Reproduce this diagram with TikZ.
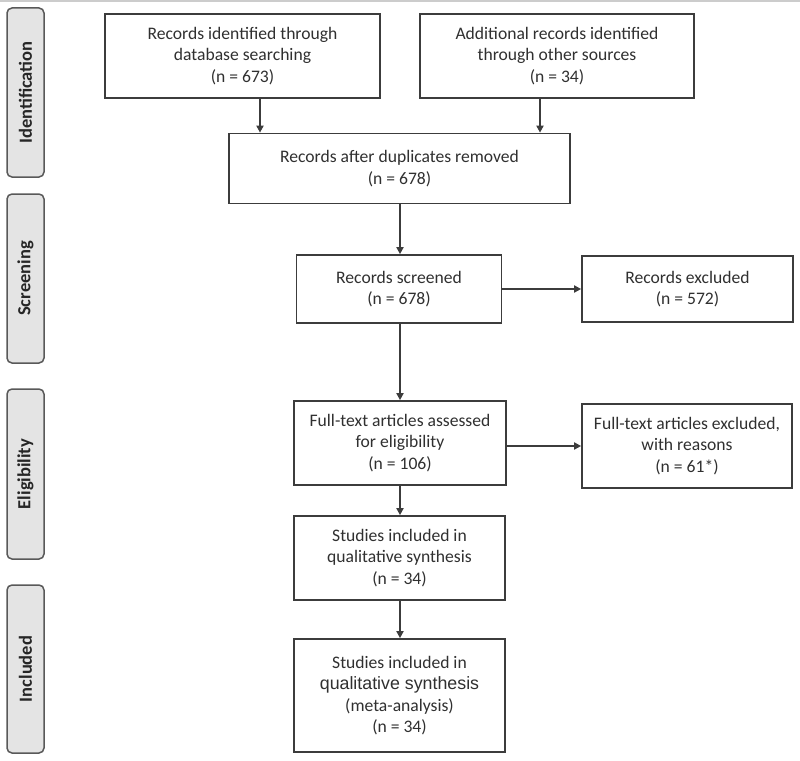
\documentclass[tikz,border=0pt]{standalone}
\usepackage{fontspec}
\setmainfont{Carlito}
\newfontfamily\arialfont{Liberation Sans}
\usetikzlibrary{arrows.meta}
\definecolor{edge}{HTML}{3C3C3C}
\definecolor{txt}{HTML}{303030}
\definecolor{side}{HTML}{E4E4E4}
\tikzset{
  flowbox/.style={draw=edge, line width=1.7pt, fill=white, inner sep=0pt, align=center,
    text=txt, font=\fontsize{17.6}{21.5}\selectfont},
  sidebox/.style={draw=edge!85, line width=1.5pt, fill=side, rounded corners=5pt, inner sep=0pt},
  sidetext/.style={rotate=90, font=\fontsize{18.5}{20}\selectfont\bfseries, text=black!85},
  flow/.style={draw=edge, line width=2pt, -{Triangle[length=7pt,width=7pt]}},
}
\begin{document}
\begin{tikzpicture}[x=1pt,y=-1pt]
\useasboundingbox (0,0) rectangle (800,760);
\draw[black!20, line width=2pt] (0,1) -- (800,1);

% side labels
\node[sidebox, minimum width=37pt, minimum height=169pt] (s1) at (25.5,92.5) {};
\node[sidetext] (t1) at (s1.center) {Identification};
\node[sidebox, minimum width=37pt, minimum height=169pt] (s2) at (25.5,278.5) {};
\node[sidetext] (t2) at (s2.center) {Screening};
\node[sidebox, minimum width=37pt, minimum height=170pt] (s3) at (25.5,474) {};
\node[sidetext] (t3) at (s3.center) {Eligibility};
\node[sidebox, minimum width=37pt, minimum height=168pt] (s4) at (25.5,669) {};
\node[sidetext] (t4) at (s4.center) {Included};

% boxes
\node[flowbox, minimum width=275pt, minimum height=84pt] (A) at (242.5,56)
  {Records identified through\\database searching\\(n = 673)};
\node[flowbox, minimum width=274pt, minimum height=84pt] (B) at (557,56)
  {Additional records identified\\through other sources\\(n = 34)};
\node[flowbox, minimum width=341pt, minimum height=70pt] (C) at (399.5,168.5)
  {Records after duplicates removed\\(n = 678)};
\node[flowbox, minimum width=205pt, minimum height=68pt] (D) at (399,289)
  {Records screened\\(n = 678)};
\node[flowbox, minimum width=211pt, minimum height=66pt] (E) at (687.5,289)
  {Records excluded\\(n = 572)};
\node[flowbox, minimum width=212pt, minimum height=84pt] (F) at (400,443)
  {Full-text articles assessed\\for eligibility\\(n = 106)};
\node[flowbox, minimum width=210pt, minimum height=84pt] (G) at (687,446)
  {Full-text articles excluded,\\with reasons\\(n = 61*)};
\node[flowbox, minimum width=211pt, minimum height=84pt] (H) at (399.5,558)
  {Studies included in\\qualitative synthesis\\(n = 34)};
\node[flowbox, minimum width=211pt, minimum height=113pt] (I) at (399.5,695.5)
  {Studies included in\\{\arialfont\fontsize{17.8}{21.5}\selectfont qualitative synthesis}\\(meta-analysis)\\(n = 34)};

% connectors
\coordinate (ax) at (260,0);
\coordinate (bx) at (540,0);
\coordinate (cx) at (400,0);
\draw[flow] (A.south -| ax) -- (C.north -| ax);
\draw[flow] (B.south -| bx) -- (C.north -| bx);
\draw[flow] (C.south -| cx) -- (D.north -| cx);
\draw[flow] (D.east) -- (E.west |- D.east);
\draw[flow] (D.south -| cx) -- (F.north -| cx);
\draw[flow] (F.east |- G.west) -- (G.west);
\draw[flow] (F.south -| cx) -- (H.north -| cx);
\draw[flow] (H.south -| cx) -- (I.north -| cx);
\end{tikzpicture}
\end{document}
